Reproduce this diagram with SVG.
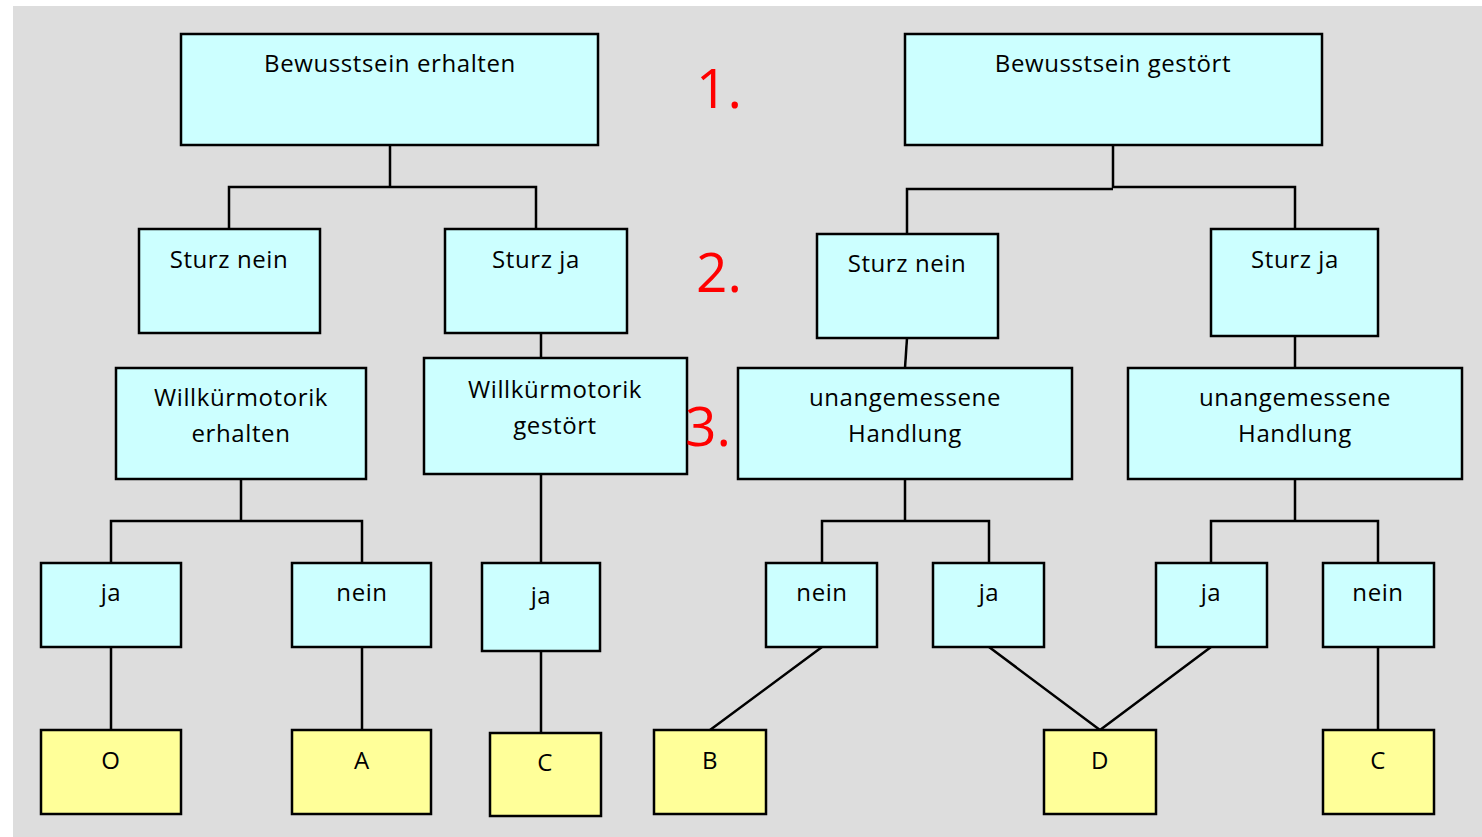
<svg xmlns="http://www.w3.org/2000/svg" width="1482" height="837" viewBox="0 0 1482 837">
<style>
.c{fill:#CCFFFF;stroke:#000;stroke-width:2.5}
.y{fill:#FFFF99;stroke:#000;stroke-width:2.5}
.t{font-family:"Open Sans","Noto Sans",sans-serif;font-size:24px;letter-spacing:0.6px;fill:#000;text-anchor:middle}
.n{font-family:"Open Sans","Noto Sans",sans-serif;font-size:55px;fill:#FF0000}
.l{fill:none;stroke:#000;stroke-width:2.5}
</style>
<rect x="0" y="0" width="1482" height="837" fill="#FFFFFF"/>
<rect x="13" y="6" width="1469" height="831" fill="#DDDDDD"/>
<g id="connectors">
<path class="l" d="M390 145V187M229 229V187H536V229"/>
<path class="l" d="M1113 145V188M907 234V189H1113M1113 187H1295V229"/>
<path class="l" d="M541 328V358"/>
<path class="l" d="M907 338L905 368"/>
<path class="l" d="M1295 336V368"/>
<path class="l" d="M241 479V521M111 563V521H362V563"/>
<path class="l" d="M541 474V563"/>
<path class="l" d="M905 479V521M822 563V521H989V563"/>
<path class="l" d="M1295 479V521M1211 563V521H1378V563"/>
<path class="l" d="M111 647V730M362 647V730M541 651V733"/>
<path class="l" d="M822 647L710 730M989 647L1100 730M1211 647L1100 730M1378 647V730"/>
</g>
<g id="n-bew-erhalten"><rect class="c" x="181" y="34" width="417" height="111"/><text class="t" x="390" y="72">Bewusstsein erhalten</text></g>
<g id="n-bew-gestoert"><rect class="c" x="905" y="34" width="417" height="111"/><text class="t" x="1113" y="72">Bewusstsein gestört</text></g>
<g id="n-sturz-nein-l"><rect class="c" x="139" y="229" width="181" height="104"/><text class="t" x="229" y="268">Sturz nein</text></g>
<g id="n-sturz-ja-l"><rect class="c" x="445" y="229" width="182" height="104"/><text class="t" x="536" y="268">Sturz ja</text></g>
<g id="n-sturz-nein-r"><rect class="c" x="817" y="234" width="181" height="104"/><text class="t" x="907" y="272">Sturz nein</text></g>
<g id="n-sturz-ja-r"><rect class="c" x="1211" y="229" width="167" height="107"/><text class="t" x="1295" y="268">Sturz ja</text></g>
<g id="n-wm-erhalten"><rect class="c" x="116" y="368" width="250" height="111"/><text class="t" x="241" y="406">Willkürmotorik</text><text class="t" x="241" y="442">erhalten</text></g>
<g id="n-wm-gestoert"><rect class="c" x="424" y="358" width="263" height="116"/><text class="t" x="555" y="398">Willkürmotorik</text><text class="t" x="555" y="434">gestört</text></g>
<g id="n-unang-l"><rect class="c" x="738" y="368" width="334" height="111"/><text class="t" x="905" y="406">unangemessene</text><text class="t" x="905" y="442">Handlung</text></g>
<g id="n-unang-r"><rect class="c" x="1128" y="368" width="334" height="111"/><text class="t" x="1295" y="406">unangemessene</text><text class="t" x="1295" y="442">Handlung</text></g>
<g id="n-ja-1"><rect class="c" x="41" y="563" width="140" height="84"/><text class="t" x="111" y="601">ja</text></g>
<g id="n-nein-1"><rect class="c" x="292" y="563" width="139" height="84"/><text class="t" x="362" y="601">nein</text></g>
<g id="n-ja-2"><rect class="c" x="482" y="563" width="118" height="88"/><text class="t" x="541" y="604">ja</text></g>
<g id="n-nein-2"><rect class="c" x="766" y="563" width="111" height="84"/><text class="t" x="822" y="601">nein</text></g>
<g id="n-ja-3"><rect class="c" x="933" y="563" width="111" height="84"/><text class="t" x="989" y="601">ja</text></g>
<g id="n-ja-4"><rect class="c" x="1156" y="563" width="111" height="84"/><text class="t" x="1211" y="601">ja</text></g>
<g id="n-nein-3"><rect class="c" x="1323" y="563" width="111" height="84"/><text class="t" x="1378" y="601">nein</text></g>
<g id="n-O"><rect class="y" x="41" y="730" width="140" height="84"/><text class="t" x="111" y="769">O</text></g>
<g id="n-A"><rect class="y" x="292" y="730" width="139" height="84"/><text class="t" x="362" y="769">A</text></g>
<g id="n-C1"><rect class="y" x="490" y="733" width="111" height="83"/><text class="t" x="545" y="771">C</text></g>
<g id="n-B"><rect class="y" x="654" y="730" width="112" height="84"/><text class="t" x="710" y="769">B</text></g>
<g id="n-D"><rect class="y" x="1044" y="730" width="112" height="84"/><text class="t" x="1100" y="769">D</text></g>
<g id="n-C2"><rect class="y" x="1323" y="730" width="111" height="84"/><text class="t" x="1378" y="769">C</text></g>
<g id="levels">
<text class="n" x="696" y="108">1.</text>
<text class="n" x="696" y="292">2.</text>
<text class="n" x="685" y="446">3.</text>
</g>
</svg>
